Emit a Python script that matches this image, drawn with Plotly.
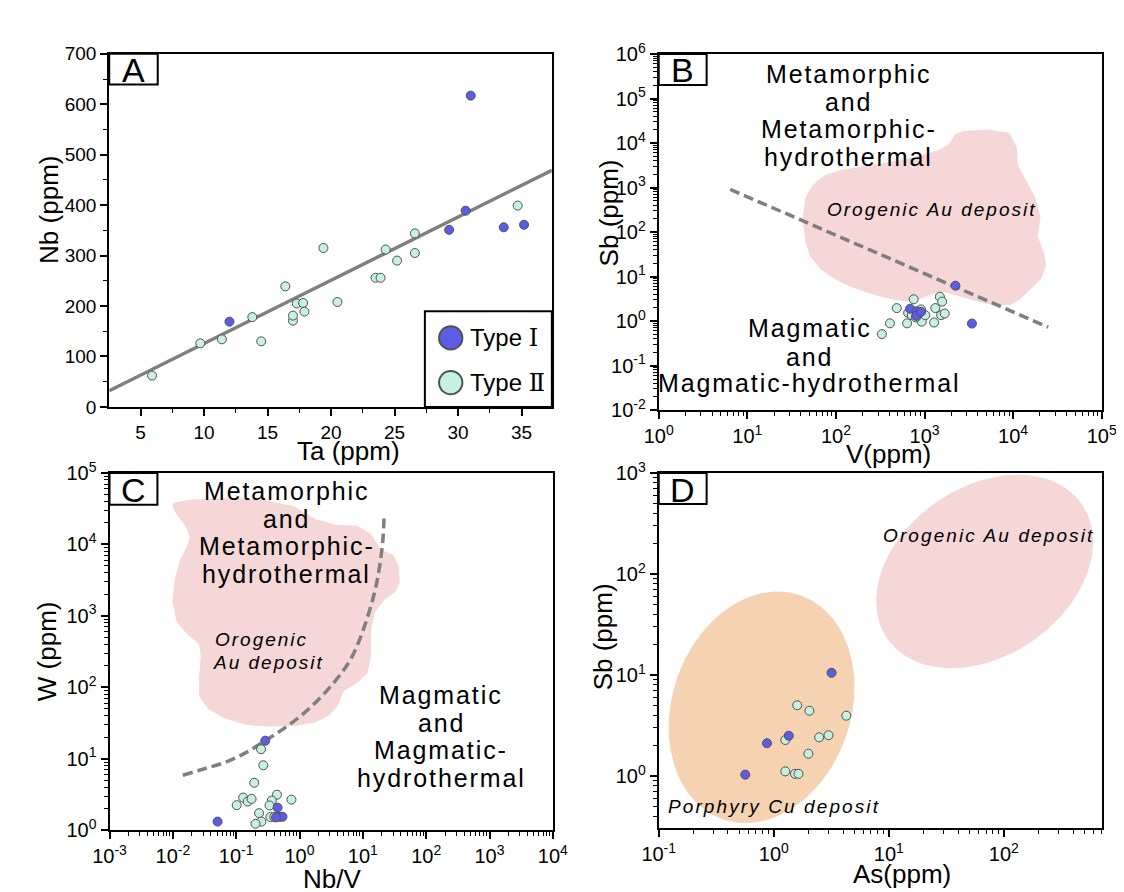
import numpy as np
import plotly.graph_objects as go

W, H = 1124, 892
FONT = "Liberation Sans, Arial, sans-serif"

# ---------------- Panel A : Nb vs Ta ----------------
a_type1_ta = [12.0, 31.0, 30.6, 29.3, 33.6, 35.2]
a_type1_nb = [169, 617, 389, 351, 356, 361]
a_type2_ta = [5.9, 9.7, 11.4, 13.8, 14.5, 16.4, 17.0, 17.0, 17.3, 17.8, 17.9,
              19.4, 20.5, 23.5, 23.9, 24.3, 25.2, 26.6, 26.6, 34.7]
a_type2_nb = [62, 126, 134, 178, 130, 239, 171, 181, 205, 206, 189,
              315, 208, 256, 256, 312, 290, 305, 344, 399]
a_fit_ta = [2.53, 37.39]
a_fit_nb = [32, 469]

# ---------------- Panel B : Sb vs V ----------------
b_type1_v = [687, 813, 805, 913, 2233, 3428]
b_type1_sb = [1.90, 1.66, 1.31, 1.61, 6.25, 0.88]
b_type2_v = [330, 407, 486, 636, 653, 754, 716, 913, 929, 1020, 1281, 1324,
             1490, 1579, 1540, 1690, 799]
b_type2_sb = [0.51, 0.89, 1.96, 0.89, 1.53, 3.09, 1.36, 1.83, 0.97, 1.36, 0.93,
              1.96, 3.52, 2.74, 1.36, 1.48, 1.21]
b_line_v = [6.4, 24900]
b_line_sb = [912, 0.73]
# orogenic Au field outline (log10 units)
b_field_logv = [3.343, 3.441, 3.717, 3.954, 4.041, 4.053, 4.152, 4.250, 4.309, 4.278,
                4.349, 4.373, 4.317, 4.191, 4.073, 3.974, 3.836, 3.678, 3.520, 3.362,
                3.224, 3.086, 2.968, 2.849, 2.731, 2.534, 2.336, 2.139, 1.981, 1.823,
                1.705, 1.650, 1.626, 1.657, 1.744, 1.882, 2.060, 2.257, 2.494, 2.731,
                2.968, 3.145, 3.264, 3.323]
b_field_logsb = [4.198, 4.271, 4.308, 4.235, 3.907, 3.505, 3.141, 2.776, 2.338, 1.901,
                 1.536, 1.244, 0.953, 0.697, 0.478, 0.369, 0.354, 0.398, 0.478, 0.573,
                 0.646, 0.602, 0.515, 0.442, 0.457, 0.530, 0.646, 0.792, 0.953, 1.171,
                 1.463, 1.828, 2.338, 2.776, 3.068, 3.287, 3.396, 3.469, 3.542, 3.615,
                 3.724, 3.834, 3.958, 4.125]

# ---------------- Panel C : W vs Nb/V ----------------
c_type1_nbv = [0.288, 0.0509, 0.451, 0.479, 0.538, 0.425]
c_type1_w = [17.9, 1.32, 2.07, 1.54, 1.54, 1.51]
c_type2_nbv = [0.247, 0.268, 0.193, 0.129, 0.102, 0.152, 0.175, 0.440, 0.365, 0.336,
               0.746, 0.230, 0.347, 0.400, 0.250, 0.202]
c_type2_w = [13.6, 8.1, 4.61, 2.86, 2.24, 2.52, 2.74, 3.14, 2.60, 2.22,
             2.68, 1.73, 1.53, 1.53, 1.32, 1.23]
c_curve_lognbv = [-1.843, -1.504, -1.175, -0.846, -0.517, -0.243, 0.031, 0.306, 0.579,
                  0.798, 0.962, 1.100, 1.209, 1.280, 1.320, 1.335]
c_curve_logw = [0.769, 0.860, 0.950, 1.086, 1.268, 1.426, 1.608, 1.834, 2.106,
                2.378, 2.697, 3.059, 3.422, 3.785, 4.102, 4.397]
c_field_lognbv = [-1.997, -1.723, -1.339, -0.956, -0.572, -0.079, 0.250, 0.579, 0.908, 1.127,
                  1.292, 1.483, 1.566, 1.582, 1.511, 1.346, 1.193, 1.127, 1.127, 1.072,
                  0.908, 0.700, 0.607, 0.469, 0.250, -0.079, -0.517, -0.846, -1.175, -1.449,
                  -1.586, -1.586, -1.558, -1.586, -1.778, -1.942, -2.008, -1.970, -1.887, -1.778,
                  -1.734, -1.805, -1.942, -2.008]
c_field_logw = [4.579, 4.624, 4.647, 4.647, 4.624, 4.533, 4.352, 4.275, 4.261, 4.148,
                3.921, 3.853, 3.694, 3.468, 3.332, 3.232, 3.059, 2.787, 2.425, 2.198,
                2.062, 1.948, 1.744, 1.608, 1.509, 1.459, 1.450, 1.472, 1.563, 1.699,
                1.880, 2.152, 2.425, 2.606, 2.742, 2.923, 3.196, 3.513, 3.785, 3.967,
                4.103, 4.261, 4.420, 4.533]

# ---------------- Panel D : Sb vs As ----------------
d_type1_as = [3.18, 1.35, 0.873, 0.565]
d_type1_sb = [10.5, 2.50, 2.11, 1.03]
d_type2_as = [1.60, 2.04, 4.27, 1.26, 2.48, 2.99, 2.00, 1.26, 1.53, 1.64]
d_type2_sb = [5.01, 4.42, 3.95, 2.27, 2.41, 2.53, 1.66, 1.11, 1.05, 1.05]
# fields as ellipses: centre (log As, log Sb), semi-axes (px), tilt (deg)
d_porphyry = dict(cx=-0.106, cy=0.680, a=122, b=92, ang=71)
d_orogenic = dict(cx=1.833, cy=2.025, a=121.7, b=86.9, ang=34.7)
D_PX_X, D_PX_Y = 118.4, 103.9

BLUE = "#5c5ce6"
TEAL = "#c6f1e2"
PINK = "#f5d7d7"
ORANGE = "#f5d3b2"
EDGE = "#505050"
GREY = "#7f7f7f"


def ellipse(e, n=160):
    t = np.linspace(0, 2 * np.pi, n)
    th = np.radians(e["ang"])
    x = e["a"] * np.cos(t) * np.cos(th) - e["b"] * np.sin(t) * np.sin(th)
    y = e["a"] * np.cos(t) * np.sin(th) + e["b"] * np.sin(t) * np.cos(th)
    return 10 ** (e["cx"] + x / D_PX_X), 10 ** (e["cy"] + y / D_PX_Y)


def pw(vals):
    return [10.0 ** v for v in vals]


fig = go.Figure()


def field(x, y, color, xa, ya):
    fig.add_trace(go.Scatter(x=x, y=y, mode="lines", fill="toself", fillcolor=color,
                             line=dict(width=0, color=color), hoverinfo="skip",
                             showlegend=False, xaxis=xa, yaxis=ya))


def pts(x, y, color, xa, ya, name):
    fig.add_trace(go.Scatter(x=x, y=y, mode="markers", name=name, showlegend=False,
                             marker=dict(size=9, color=color, line=dict(width=1, color=EDGE)),
                             xaxis=xa, yaxis=ya))


# A
fig.add_trace(go.Scatter(x=a_fit_ta, y=a_fit_nb, mode="lines", line=dict(color=GREY, width=3.5),
                         showlegend=False, xaxis="x", yaxis="y"))
pts(a_type2_ta, a_type2_nb, TEAL, "x", "y", "Type II")
pts(a_type1_ta, a_type1_nb, BLUE, "x", "y", "Type I")

# B
field(pw(b_field_logv), pw(b_field_logsb), PINK, "x2", "y2")
fig.add_trace(go.Scatter(x=b_line_v, y=b_line_sb, mode="lines",
                         line=dict(color=GREY, width=3.5, dash="10px,5px"),
                         showlegend=False, xaxis="x2", yaxis="y2"))
pts(b_type2_v, b_type2_sb, TEAL, "x2", "y2", "Type II")
pts(b_type1_v, b_type1_sb, BLUE, "x2", "y2", "Type I")

# C
field(pw(c_field_lognbv), pw(c_field_logw), PINK, "x3", "y3")
fig.add_trace(go.Scatter(x=pw(c_curve_lognbv), y=pw(c_curve_logw), mode="lines",
                         line=dict(color=GREY, width=3.5, dash="10px,5px", shape="spline"),
                         showlegend=False, xaxis="x3", yaxis="y3"))
pts(c_type2_nbv, c_type2_w, TEAL, "x3", "y3", "Type II")
pts(c_type1_nbv, c_type1_w, BLUE, "x3", "y3", "Type I")

# D
ex, ey = ellipse(d_orogenic)
field(ex, ey, PINK, "x4", "y4")
ex, ey = ellipse(d_porphyry)
field(ex, ey, ORANGE, "x4", "y4")
pts(d_type2_as, d_type2_sb, TEAL, "x4", "y4", "Type II")
pts(d_type1_as, d_type1_sb, BLUE, "x4", "y4", "Type I")


def base_axis(**kw):
    d = dict(showline=True, linecolor="black", linewidth=2, mirror=True,
             ticks="outside", ticklen=7, tickwidth=1.5, tickcolor="black",
             showgrid=False, zeroline=False,
             tickfont=dict(family=FONT, size=19, color="black"))
    d.update(kw)
    return d


def log_axis(lo, hi, rng, domain, anchor):
    vals = [10.0 ** p for p in range(lo, hi + 1)]
    text = [f"10<sup>{p}</sup>" for p in range(lo, hi + 1)]
    minor = [k * 10.0 ** p for p in range(lo - 1, hi + 1) for k in range(2, 10)]
    return base_axis(type="log", range=rng, domain=domain, anchor=anchor,
                     tickmode="array", tickvals=vals, ticktext=text,
                     tickfont=dict(family=FONT, size=20, color="black"),
                     minor=dict(tickmode="array", tickvals=minor, ticks="outside",
                                ticklen=4, tickwidth=1.2, tickcolor="black", showgrid=False))


def xd(a, b):
    return [a / W, b / W]


def yd(top, bottom):
    return [1 - bottom / H, 1 - top / H]


fig.update_layout(
    width=W, height=H, autosize=False,
    margin=dict(l=0, r=0, t=0, b=0),
    paper_bgcolor="white", plot_bgcolor="white",
    font=dict(family=FONT, color="black"),
    showlegend=False,
    xaxis=base_axis(domain=xd(86.7, 542.3), anchor="y", range=[2.53, 37.39], tick0=0, dtick=5,
                    minor=dict(dtick=2.5, ticks="outside", ticklen=4, tickwidth=1.2, tickcolor="black")),
    yaxis=base_axis(domain=yd(32.7, 396), anchor="x", range=[0, 700], tick0=0, dtick=100,
                    minor=dict(dtick=50, ticks="outside", ticklen=4, tickwidth=1.2, tickcolor="black")),
    xaxis2=log_axis(0, 5, [0, 5], xd(652.3, 1108.3), "y2"),
    yaxis2=log_axis(-2, 6, [-2, 6], yd(33, 399.3), "x2"),
    xaxis3=log_axis(-3, 4, [-3, 4], xd(87, 543.3), "y3"),
    yaxis3=log_axis(0, 5, [0, 5], yd(464, 831.5), "x3"),
    xaxis4=log_axis(-1, 2, [-1, 2.851], xd(652.3, 1108.3), "y4"),
    yaxis4=log_axis(0, 3, [-0.518, 3], yd(464, 829.5), "x4"),
)

shapes = []
annotations = []


def ann(text, px, py, size=24, italic=False, angle=0, xanchor="center", spacing=None):
    if spacing:
        text = f'<span style="letter-spacing:{spacing}px">{text}</span>'
    annotations.append(dict(text=text, x=px / W, y=1 - py / H, xref="paper", yref="paper",
                            showarrow=False, xanchor=xanchor, yanchor="middle", textangle=angle,
                            font=dict(family=FONT, size=size, color="black",
                                      style="italic" if italic else "normal")))


def label_box(letter, x0, y0, x1, y1):
    shapes.append(dict(type="rect", xref="paper", yref="paper", x0=x0 / W, x1=x1 / W,
                       y0=1 - y1 / H, y1=1 - y0 / H, line=dict(color="black", width=2),
                       fillcolor="white", layer="above"))
    ann(letter, (x0 + x1) / 2, (y0 + y1) / 2 + 1, size=34)


# axis titles
ann("Nb (ppm)", 24, 193, size=26, angle=-90)
ann("Ta (ppm)", 333, 441, size=26)
ann("Sb (ppm)", 601, 196, size=26, angle=-90)
ann("V(ppm)", 889, 444, size=26)
ann("W (ppm)", 23, 647, size=26, angle=-90)
ann("Nb/V", 316, 882, size=26)
ann("Sb (ppm)", 595, 633, size=26, angle=-90)
ann("As(ppm)", 903, 877, size=26)

# panel labels
label_box("A", 86.7, 32.7, 136.6, 64.3)
label_box("B", 652.3, 33, 701.6, 64.7)
label_box("C", 87, 464, 136.3, 496.7)
label_box("D", 652.3, 464, 701.6, 496)

# legend in A
shapes.append(dict(type="rect", xref="paper", yref="paper", x0=411.6 / W, x1=542.3 / W,
                   y0=1 - 396 / H, y1=1 - 297.7 / H, line=dict(color="black", width=2),
                   fillcolor="white", layer="above"))
for cy, col in [(325, BLUE), (371, TEAL)]:
    shapes.append(dict(type="circle", xref="paper", yref="paper",
                       x0=(438.2 - 12) / W, x1=(438.2 + 12) / W,
                       y0=1 - (cy + 12) / H, y1=1 - (cy - 12) / H,
                       line=dict(color=EDGE, width=2), fillcolor=col, layer="above"))
ann("Type <span style=\"font-family:'DejaVu Serif'\">Ⅰ</span>", 456, 325, size=24, xanchor="left")
ann("Type <span style=\"font-family:'DejaVu Serif'\">Ⅱ</span>", 456, 371, size=24, xanchor="left")

# B texts
SP = 1.9
FS = 25
for t, y in [("Metamorphic", 53.7), ("and", 82.1), ("Metamorphic-", 110.5), ("hydrothermal", 138.8)]:
    ann(t, 848, y, size=FS, spacing=SP)
ann("Orogenic Au deposit", 933, 193, size=19, italic=True, spacing=2.0)
for t, y in [("Magmatic", 314.8), ("and", 344.2), ("Magmatic-hydrothermal", 371.6)]:
    ann(t, 808, y, size=FS, spacing=SP)

# C texts
for t, y in [("Metamorphic", 482.7), ("and", 511), ("Metamorphic-", 539.3), ("hydrothermal", 567.7)]:
    ann(t, 269.2, y, size=FS, spacing=SP)
ann("Orogenic", 193.5, 635, size=19, italic=True, xanchor="left", spacing=2.0)
ann("Au deposit", 191.7, 659, size=19, italic=True, xanchor="left", spacing=2.0)
for t, y in [("Magmatic", 692.3), ("and", 720.7), ("Magmatic-", 749), ("hydrothermal", 777.3)]:
    ann(t, 428.2, y, size=FS, spacing=SP)

# D texts
ann("Orogenic Au deposit", 991.4, 528.3, size=19, italic=True, spacing=2.1)
ann("Porphyry Cu deposit", 771.4, 806.7, size=19, italic=True, spacing=2.1)

fig.update_layout(shapes=shapes, annotations=annotations)
fig.write_html("out.html")
